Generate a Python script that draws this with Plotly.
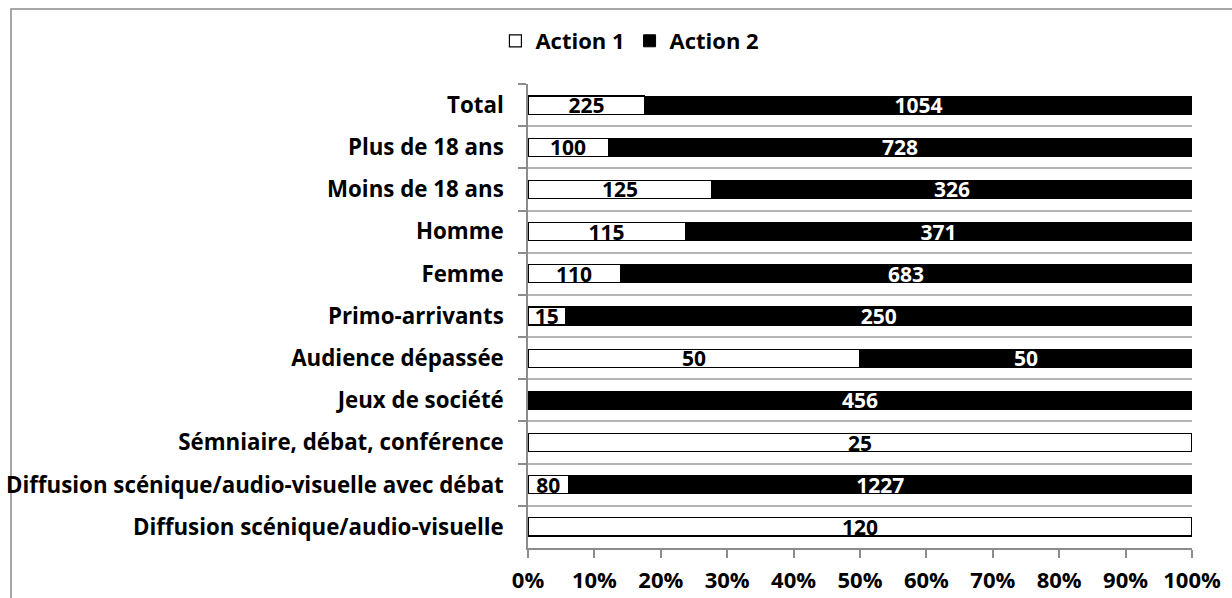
import plotly.graph_objects as go

# Categories, listed top to bottom
categories = [
    "Total",
    "Plus de 18 ans",
    "Moins de 18 ans",
    "Homme",
    "Femme",
    "Primo-arrivants",
    "Audience dépassée",
    "Jeux de société",
    "Sémniaire, débat, conférence",
    "Diffusion scénique/audio-visuelle avec débat",
    "Diffusion scénique/audio-visuelle",
]

action1 = [225, 100, 125, 115, 110, 15, 50, 0, 25, 80, 120]
action2 = [1054, 728, 326, 371, 683, 250, 50, 456, 0, 1227, 0]

x_ticks = [0, 10, 20, 30, 40, 50, 60, 70, 80, 90, 100]
x_tick_text = [f"{v}%" for v in x_ticks]

FONT = "Open Sans"
FS = 22
BAR_FS = 21
GRID = "#b4b4b4"
AXIS = "#8c8c8c"


def labels(values):
    return [str(v) if v else "" for v in values]


fig = go.Figure()
fig.add_trace(go.Bar(
    name="Action 1", y=categories, x=action1, orientation="h",
    marker=dict(color="white", line=dict(color="black", width=1.2)),
    text=labels(action1), textposition="inside", insidetextanchor="middle",
    textangle=0, constraintext="none",
    textfont=dict(family=FONT, size=BAR_FS, color="black", weight="bold"),
    hoverinfo="skip",
))
fig.add_trace(go.Bar(
    name="Action 2", y=categories, x=action2, orientation="h",
    marker=dict(color="black", line=dict(color="black", width=1)),
    text=labels(action2), textposition="inside", insidetextanchor="middle",
    textangle=0, constraintext="none",
    textfont=dict(family=FONT, size=BAR_FS, color="white", weight="bold"),
    hoverinfo="skip",
))

fig.update_layout(
    width=1232, height=598,
    margin=dict(l=528, r=40, t=84, b=50, autoexpand=False),
    barmode="stack", barnorm="percent", bargap=0.57,
    plot_bgcolor="white", paper_bgcolor="white",
    font=dict(family=FONT, size=FS, color="black", weight="bold"),
    showlegend=True,
    legend=dict(
        orientation="h", x=0.1535, xanchor="center", y=1.0927, yanchor="middle",
        font=dict(family=FONT, size=FS, color="black", weight="bold"),
        traceorder="normal", bgcolor="rgba(0,0,0,0)", itemwidth=30,
    ),
    xaxis=dict(
        range=[0, 100], tickvals=x_ticks, ticktext=x_tick_text,
        automargin=False,
        showgrid=False, zeroline=False,
        showline=True, linecolor=AXIS, linewidth=1.5,
        ticks="outside", ticklen=8, tickcolor=AXIS, tickwidth=1.5,
        ticklabelstandoff=4,
        tickfont=dict(family=FONT, size=FS, color="black", weight="bold"),
    ),
    yaxis=dict(
        autorange="reversed", type="category",
        automargin=False,
        tickson="boundaries",
        showgrid=True, gridcolor=GRID, gridwidth=1.5,
        showline=True, linecolor=AXIS, linewidth=1.5,
        ticks="outside", ticklen=8, tickcolor=AXIS, tickwidth=1.5,
        ticklabelstandoff=18,
        tickfont=dict(family=FONT, size=22.3, color="black", weight="bold"),
    ),
    shapes=[dict(
        type="rect", xref="paper", yref="paper",
        x0=-0.7786, x1=1.3, y0=-0.3, y1=1.1616,
        line=dict(color="#8a8a8a", width=1.5), fillcolor="rgba(0,0,0,0)",
        layer="below",
    )],
)

fig.write_html("out.html")
